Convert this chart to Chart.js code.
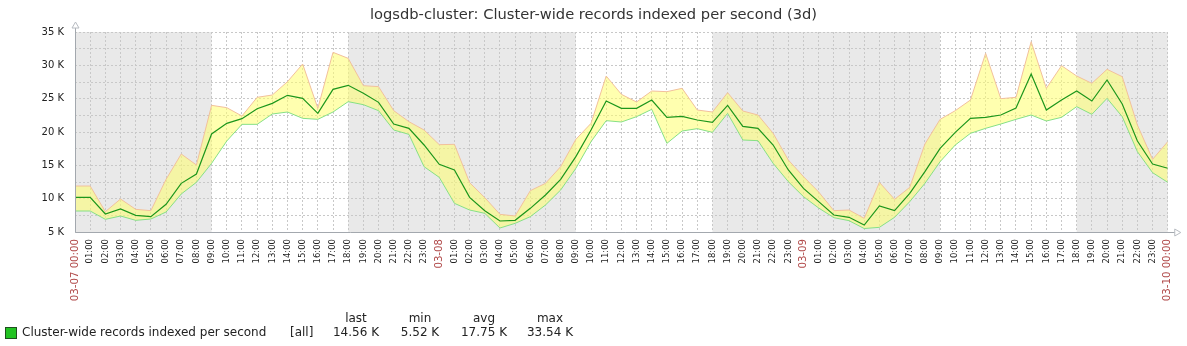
<!DOCTYPE html>
<html>
<head>
<meta charset="utf-8">
<script src="https://cdn.jsdelivr.net/npm/chart.js@4"></script>
<style>
  html, body { margin: 0; padding: 0; background: #fff; }
  #wrap { position: relative; width: 1187px; height: 346px; overflow: hidden; font-family: "DejaVu Sans", sans-serif; }
  canvas { position: absolute; left: 0; top: 0; }
  .t { position: absolute; line-height: 1; white-space: nowrap; color: #222; }
  #title { left: 0; width: 1187px; top: 7px; text-align: center; font-size: 14.7px; color: #333; }
  .lg { font-size: 12px; }
  .col { width: 80px; text-align: center; }
  #sq { position: absolute; left: 5px; top: 327px; width: 10px; height: 10px; background: #22c322; border: 1px solid #1f4f1f; }
</style>
</head>
<body>
<div id="wrap">
  <canvas id="c" width="1187" height="346"></canvas>
  <div id="title" class="t">logsdb-cluster: Cluster-wide records indexed per second (3d)</div>
  <div id="sq"></div>
  <div class="t lg" style="left:22px;top:326px;">Cluster-wide records indexed per second</div>
  <div class="t lg" style="left:290px;top:326px;">[all]</div>
  <div class="t lg col" style="left:316px;top:312px;">last</div>
  <div class="t lg col" style="left:380px;top:312px;">min</div>
  <div class="t lg col" style="left:444px;top:312px;">avg</div>
  <div class="t lg col" style="left:510px;top:312px;">max</div>
  <div class="t lg col" style="left:316px;top:326px;">14.56 K</div>
  <div class="t lg col" style="left:380px;top:326px;">5.52 K</div>
  <div class="t lg col" style="left:444px;top:326px;">17.75 K</div>
  <div class="t lg col" style="left:510px;top:326px;">33.54 K</div>
</div>
<script>
// ---- data (thousands of records/s), one value per hour, 03-07 00:00 .. 03-10 00:00 ----
const hours = [];
for (let h = 0; h <= 72; h++) hours.push(h);

const tickLabels = [
  "03-07 00:00","01:00","02:00","03:00","04:00","05:00","06:00","07:00","08:00","09:00","10:00","11:00",
  "12:00","13:00","14:00","15:00","16:00","17:00","18:00","19:00","20:00","21:00","22:00","23:00",
  "03-08","01:00","02:00","03:00","04:00","05:00","06:00","07:00","08:00","09:00","10:00","11:00",
  "12:00","13:00","14:00","15:00","16:00","17:00","18:00","19:00","20:00","21:00","22:00","23:00",
  "03-09","01:00","02:00","03:00","04:00","05:00","06:00","07:00","08:00","09:00","10:00","11:00",
  "12:00","13:00","14:00","15:00","16:00","17:00","18:00","19:00","20:00","21:00","22:00","23:00",
  "03-10 00:00"
];
const dateTickIdx = [0, 24, 48, 72];

const avgValues = [
  10.2,10.2,7.7,8.45,7.5,7.3,9.15,12.3,13.7,19.7,21.3,22.0,
  23.5,24.3,25.5,25.05,22.8,26.4,27.0,25.8,24.45,21.2,20.55,18.05,
  15.15,14.3,10.2,8.2,6.65,6.75,8.55,10.55,12.9,16.3,20.3,24.65,
  23.55,23.55,24.8,22.2,22.35,21.8,21.45,24.0,20.85,20.55,18.05,14.3,
  11.55,9.55,7.55,7.2,6.05,8.9,8.2,10.8,14.05,17.55,19.95,22.05,
  22.2,22.55,23.6,28.7,23.3,24.8,26.15,24.65,27.8,24.2,18.65,15.2,
  14.56
];
const maxValues = [
  11.9,11.9,8.05,9.95,8.4,8.2,12.9,16.7,15.05,24.0,23.65,22.4,
  25.2,25.55,27.55,30.2,23.55,31.95,31.05,26.95,26.8,23.2,21.55,20.3,
  18.1,18.15,12.4,10.15,7.65,7.4,11.2,12.3,14.8,18.9,21.3,28.4,
  25.65,24.5,26.15,26.05,26.55,23.3,23.0,25.9,23.15,22.55,19.8,15.8,
  13.3,11.0,8.2,8.3,7.05,12.45,9.9,11.7,18.2,21.9,23.2,24.8,
  31.8,25.0,25.2,33.54,26.55,29.95,28.4,27.3,29.4,28.3,21.05,15.9,
  18.55
];
const minValues = [
  8.15,8.15,6.9,7.4,6.75,6.95,8.0,10.7,12.45,15.3,18.65,21.15,
  21.15,22.7,23.0,22.05,21.9,23.0,24.55,24.1,23.2,20.3,19.65,14.8,
  13.2,9.3,8.3,7.8,5.6,6.3,7.3,9.05,11.3,14.55,18.55,21.7,
  21.5,22.3,23.4,18.3,20.15,20.5,19.95,22.8,18.8,18.7,15.3,12.55,
  10.3,8.6,7.15,6.7,5.52,5.7,7.2,9.55,12.3,15.55,18.05,19.8,
  20.55,21.2,21.9,22.55,21.65,22.2,23.8,22.65,25.05,22.3,17.05,13.9,
  12.45
];
// night (grey) periods, in hours from start
const nightBands = [[0, 9], [18, 33], [42, 57], [66, 72]];

const yMin = 5000, yMax = 35000, yGridStep = 2500, yLabelStep = 5000;

const toPts = arr => arr.map((v, i) => ({ x: hours[i], y: v * 1000 }));

const bgPlugin = {
  id: 'bg',
  beforeDraw(chart) {
    const { ctx, chartArea: a, scales: { x } } = chart;
    ctx.save();
    ctx.fillStyle = '#ffffff';
    ctx.fillRect(0, 0, chart.width, chart.height);
    ctx.fillStyle = '#e9e9e9';
    nightBands.forEach(([s, e]) => {
      const x0 = x.getPixelForValue(s), x1 = x.getPixelForValue(e);
      ctx.fillRect(x0, a.top, x1 - x0, a.bottom - a.top);
    });
    ctx.restore();
  },
  afterDraw(chart) {
    const { ctx, chartArea: a } = chart;
    ctx.save();
    ctx.strokeStyle = '#a3a8ae';
    ctx.lineWidth = 1;
    const L = Math.round(a.left) + 0.5, B = Math.round(a.bottom) + 0.5;
    ctx.beginPath();
    ctx.moveTo(L, B); ctx.lineTo(L, a.top - 4);
    ctx.moveTo(L, B); ctx.lineTo(a.right + 7, B);
    ctx.stroke();
    ctx.strokeStyle = '#b8bcc2';
    // up arrow
    ctx.beginPath();
    ctx.moveTo(L - 3.5, a.top - 4); ctx.lineTo(L, a.top - 10); ctx.lineTo(L + 3.5, a.top - 4); ctx.closePath();
    ctx.stroke();
    // right arrow
    const R = a.right + 7;
    ctx.beginPath();
    ctx.moveTo(R, B - 3.5); ctx.lineTo(R + 6, B); ctx.lineTo(R, B + 3.5); ctx.closePath();
    ctx.stroke();
    ctx.restore();
  }
};

new Chart(document.getElementById('c'), {
  type: 'line',
  data: {
    datasets: [
      { label: 'avg', data: toPts(avgValues), borderColor: '#1c961c', borderWidth: 1.2, pointRadius: 0, fill: false, tension: 0 },
      { label: 'min', data: toPts(minValues), borderColor: '#86e086', borderWidth: 1, pointRadius: 0, fill: false, tension: 0 },
      { label: 'max', data: toPts(maxValues), borderColor: '#f2c09c', borderWidth: 1, pointRadius: 0, fill: '-1',
        backgroundColor: 'rgba(255,255,110,0.55)', tension: 0 }
    ]
  },
  options: {
    responsive: false,
    animation: false,
    devicePixelRatio: 1,
    layout: { padding: { top: 32, right: 18, left: 0, bottom: 0 } },
    plugins: { legend: { display: false }, title: { display: false }, tooltip: { enabled: false } },
    scales: {
      x: {
        type: 'linear', min: 0, max: 72,
        afterFit(s) { s.height = 114; },
        afterBuildTicks(s) { s.ticks = hours.map(h => ({ value: h })); },
        grid: { color: '#c8c8c8', drawTicks: false, lineWidth: 1 },
        border: { display: false, dash: [2, 2] },
        ticks: {
          autoSkip: false, minRotation: 90, maxRotation: 90, padding: 7,
          callback: (v) => tickLabels[v],
          color: (c) => dateTickIdx.includes(c.index) ? '#b04848' : '#222222',
          font: (c) => dateTickIdx.includes(c.index)
            ? { family: 'DejaVu Sans', size: 10.2 }
            : { family: 'DejaVu Sans', size: 8.5 }
        }
      },
      y: {
        type: 'linear', min: yMin, max: yMax,
        afterFit(s) { s.width = 75; },
        grid: { color: '#c8c8c8', drawTicks: false, lineWidth: 1 },
        border: { display: false, dash: [2, 2] },
        ticks: {
          stepSize: yGridStep, padding: 11, color: '#222',
          font: { family: 'DejaVu Sans', size: 10 },
          callback: (v) => (v % yLabelStep === 0 ? (v / 1000) + ' K' : '')
        }
      }
    }
  },
  plugins: [bgPlugin]
});
</script>
</body>
</html>
